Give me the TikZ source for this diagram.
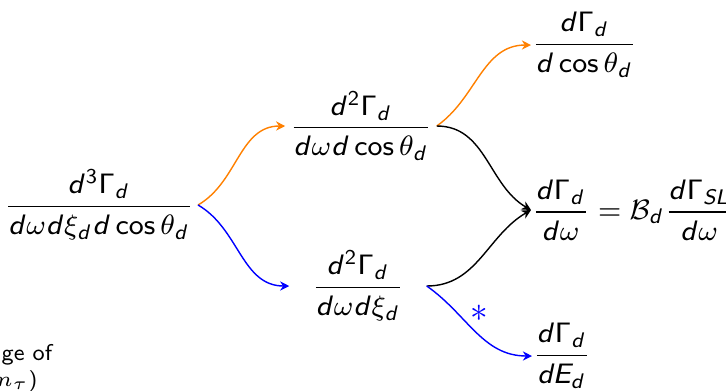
\documentclass[tikz,border=0pt]{standalone}
\usepackage{amsmath}
\usepackage{amssymb}
\usetikzlibrary{arrows.meta}
% sans serif math, the way slides set it
\DeclareSymbolFont{operators}{OT1}{cmss}{m}{n}
\DeclareSymbolFont{sfletters}{OT1}{cmss}{m}{sl}
\def\sfletter#1{\ifx#1\relax\else\DeclareMathSymbol{#1}{\mathalpha}{sfletters}{`#1}\expandafter\sfletter\fi}
\sfletter abcdefghijklmnopqrstuvwxyzABCDEFGHIJKLMNOPQRSTUVWXYZ\relax

\begin{document}
\begin{tikzpicture}[
    x=0.01cm, y=-0.01cm,
    frac/.style={inner sep=1pt, font=\fontsize{8.5}{10}\selectfont},
    midfrac/.style={frac, minimum width=1.36cm},
    endfrac/.style={frac, inner sep=0pt, anchor=west},
    note/.style={inner sep=0pt, font=\fontsize{6.5}{8}\sffamily, anchor=west},
    tip/.style={-{Stealth[length=2.6pt, width=2.6pt]}, thin},
    oline/.style={tip, orange},
    bline/.style={tip, blue},
    kline/.style={tip, black},
]
\useasboundingbox (0,0) rectangle (726,390);
\node[frac] (full) at (99,205) {$\dfrac{d^3\Gamma_d}{d\omega d\xi_d d\cos\theta_d}$};
\node[midfrac] (omcos) at (361,126) {$\dfrac{d^2\Gamma_d}{d\omega d\cos\theta_d}$};
\node[midfrac] (omxi) at (358,286) {$\dfrac{d^2\Gamma_d}{d\omega d\xi_d}$};
\node[endfrac] (cosd) at (531,45) {$\dfrac{d\Gamma_d}{d\cos\theta_d}$};
\node[endfrac] (omd) at (531,210) {$\dfrac{d\Gamma_d}{d\omega}=\mathcal{B}_d\dfrac{d\Gamma_{SL}}{d\omega}$};
\node[endfrac] (ed) at (532,356) {$\dfrac{d\Gamma_d}{dE_d}$};
\node[note] (rangeof) at (1,355) {ge of};
\node[note, font=\fontsize{6.5}{8}\selectfont] (mtau) at (-11,381) {$\mathnormal{m}_\tau)$};
\draw[oline] (full.east) to[out=30, in=180] (omcos.west);
\draw[bline] (full.east) to[out=-30, in=180] (omxi.west);
\draw[oline] (omcos.east) to[out=35, in=180] (cosd.west);
\draw[kline] (omcos.east) to[out=0, in=150] (omd.west);
\draw[kline] (omxi.east) to[out=0, in=210] (omd.west);
\draw[bline] (omxi.east) to[out=-35, in=180] node[pos=0.33, anchor=west, inner sep=2.5pt, yshift=1pt, text=blue] (star) {$*$} (ed.west);
\end{tikzpicture}
\end{document}
